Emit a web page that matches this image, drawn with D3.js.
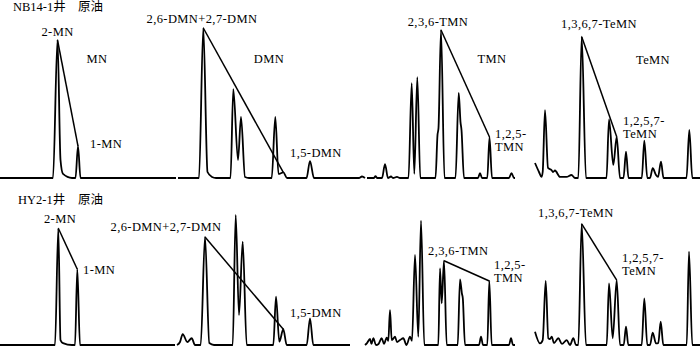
<!DOCTYPE html>
<html>
<head>
<meta charset="utf-8">
<script src="https://cdnjs.cloudflare.com/ajax/libs/d3/7.8.5/d3.min.js"></script>
<style>
  body { margin: 0; background: #fff; }
  svg { display: block; }
  .trace { fill: none; stroke: #000; stroke-width: 1.8; stroke-linejoin: round; }
  .link { stroke: #000; stroke-width: 1.5; }
  .lbl { font-family: "Liberation Serif", "Times New Roman", serif; font-size: 12.5px; fill: #000; letter-spacing: 0.4px; }
  .title { font-family: "Liberation Serif", "Noto Sans CJK SC", serif; font-size: 12.5px; fill: #000; }
</style>
</head>
<body>
<script>
// retention (arbitrary units) and relative signal (%)
// NB14-1 well, crude oil
var nb14MN_rt  = [0, 10.6, 11.5, 12.1, 12.6, 14.4, 15.1, 15.6, 16.1, 35.2];
var nb14MN_sig = [0, 0, 92, 12, 2.7, 0, 0, 21.3, 0, 0];

var nb14DMN_rt  = [0, 4.2, 5.06, 5.9, 6.8, 7.6, 10.5, 11.06, 12, 12.6, 13.4, 14.2, 18.74, 19.46, 20.1, 21.06, 21.8, 25.7, 26.4, 27.2, 36.2, 36.8, 37.4];
var nb14DMN_sig = [0, 0, 100, 4, 0.7, 0, 0, 59.3, 12, 40.7, 0.7, 0, 0, 40.7, 2.7, 3.7, 0, 0, 11.3, 0, 0, 1, 0];

var nb14TMN_rt  = [0, 1.4, 1.7, 2, 3, 3.6, 4.2, 4.8, 5.2, 6, 6.6, 8.3, 8.94, 9.46, 10.06, 10.66, 13.7, 14.1, 14.3, 14.8, 15.5, 17.7, 18.34, 18.7, 18.9, 19.4, 22.2, 22.6, 23, 24.06, 24.5, 25, 28.4, 28.9, 29.4, 29.6];
var nb14TMN_sig = [0, 0, 1.3, 0, 0, 9.3, 0, 1, 0, 0.7, 0, 0, 63.3, 2.7, 67.3, 0, 0, 28.7, 33.3, 98.7, 0, 0, 56.7, 37.3, 32, 0, 0, 3.3, 0, 0, 27.3, 0, 0, 3.3, 0, 0];

var nb14TeMN_rt  = [0, 0.8, 1.3, 1.54, 2, 2.6, 3.3, 3.6, 4, 5, 6.3, 7.3, 8, 8.66, 9.34, 10.2, 14.3, 14.8, 15.66, 16.34, 17, 17.7, 18.2, 18.7, 21.36, 21.86, 22.46, 23, 23.54, 24.2, 24.6, 25.2, 25.7, 30.3, 30.86, 31.46, 33];
var nb14TeMN_sig = [10, 4, 0.7, 4, 45.3, 6.7, 5.3, 4, 5, 0.7, 0.7, 2, 0, 0, 94.2, 0, 0, 39.1, 8.7, 27.5, 0, 0, 17.5, 0, 0, 24.9, 0, 0, 6.5, 2, 0.7, 10.9, 0, 0, 32, 0, 0];

// HY2-1 well, crude oil
var hy2MN_rt  = [0, 11, 11.66, 12.1, 12.6, 14.4, 15, 15.46, 16, 35];
var hy2MN_sig = [0, 0, 77.8, 3.3, 1.3, 0, 0, 50.5, 0, 0];

var hy2DMN_rt  = [0, 0.6, 1.14, 2.06, 2.94, 3.6, 4.74, 5.6, 6.46, 7.4, 11.14, 11.74, 12.4, 13.14, 13.94, 19.26, 19.8, 20.46, 21.26, 21.94, 25.94, 26.6, 27.26, 34.6];
var hy2DMN_sig = [0, 2, 7.3, 2, 4.5, 0, 0, 72, 1.3, 0, 0, 86.7, 20, 68.9, 0, 0, 32.2, 2.2, 10.5, 0, 0, 17.8, 0, 0];

var hy2TMN_rt  = [0, 0.4, 1, 1.3, 1.66, 2.2, 2.7, 3.34, 3.8, 4.34, 4.66, 5, 5.34, 5.6, 6, 6.4, 7, 7.66, 8.3, 9, 9.4, 10, 10.66, 11.2, 11.86, 14.66, 15, 15.34, 15.8, 16.34, 18.54, 19, 19.4, 19.56, 20, 22.8, 23.2, 23.6, 24.46, 24.86, 25.34, 28.8, 29.2, 29.6, 30];
var hy2TMN_sig = [0, 1.3, 4, 0.7, 4.5, 0, 0.7, 4.5, 0.7, 4.9, 2.7, 23.3, 3.3, 4, 5.5, 2, 3.3, 4.5, 0, 5.5, 2.7, 60, 5.5, 82.9, 0, 0, 51.1, 27.8, 56.2, 0, 0, 43.8, 34, 31.3, 0, 0, 5.5, 0, 0, 42.7, 0, 0, 4.5, 0, 0];

var hy2TeMN_rt  = [0, 1, 1.54, 2.14, 2.66, 3, 3.34, 3.8, 4.66, 5.4, 6.34, 7, 7.66, 8.2, 8.66, 9.34, 10.2, 14.34, 14.8, 15.54, 16.34, 17, 17.74, 18.2, 18.66, 21.34, 21.86, 22.46, 23, 23.54, 24.2, 24.66, 25.14, 25.66, 30.34, 30.8, 31.46, 33];
var hy2TeMN_sig = [8.9, 1.1, 3.3, 42.7, 4.5, 4, 5.5, 1.3, 4.5, 0.7, 3.3, 0, 4.5, 0, 0, 80.7, 0, 0, 41.1, 4.5, 43.3, 0, 0, 12.2, 0, 0, 31.1, 0, 0, 8.2, 1.1, 1.3, 15.5, 0, 0, 62.2, 0, 0];

// ratio lines: retention of the two peaks joined in each panel
var nb14_links = [[11.5, 15.6], [5.06, 21.06], [14.8, 24.5], [9.34, 16.34]];
var hy2_links  = [[11.66, 15.46], [5.6, 21.26], [15.8, 24.86], [9.34, 16.34]];

var wells = ["NB14-1井", "HY2-1井"];
var sampleType = "原油";

var svgWidth = 700;
var svgHeight = 347;
var pxPerUnit = 5;

var svg = d3.select("body")
  .append("svg")
  .attr("width", svgWidth)
  .attr("height", svgHeight);

// layout of the two rows
var rows = [
  { base: 178, x0: [0, 178, 367, 535],
    rt: [nb14MN_rt, nb14DMN_rt, nb14TMN_rt, nb14TeMN_rt],
    sig: [nb14MN_sig, nb14DMN_sig, nb14TMN_sig, nb14TeMN_sig],
    links: nb14_links },
  { base: 345, x0: [0, 177, 365, 535],
    rt: [hy2MN_rt, hy2DMN_rt, hy2TMN_rt, hy2TeMN_rt],
    sig: [hy2MN_sig, hy2DMN_sig, hy2TMN_sig, hy2TeMN_sig],
    links: hy2_links }
];

rows.forEach(function(row) {
  var y = d3.scaleLinear().domain([0, 100]).range([row.base, row.base - 150]);

  row.rt.forEach(function(rt, i) {
    var sig = row.sig[i];
    var xMax = d3.max(rt);
    var x = d3.scaleLinear().domain([0, xMax]).range([row.x0[i], row.x0[i] + xMax * pxPerUnit]);

    var pts = rt.map(function(t, k) { return [t, sig[k]]; });

    var line = d3.line()
      .x(function(d) { return x(d[0]); })
      .y(function(d) { return y(d[1]); })
      .curve(d3.curveMonotoneX);

    svg.append("path")
      .attr("class", "trace")
      .attr("d", line(pts));

    // line joining the two marker peaks
    var a = rt.indexOf(row.links[i][0]);
    var b = rt.indexOf(row.links[i][1]);
    svg.append("line")
      .attr("class", "link")
      .attr("x1", x(rt[a])).attr("y1", y(sig[a]))
      .attr("x2", x(rt[b])).attr("y2", y(sig[b]));
  });
});

// titles
var titles = [
  { t: wells[0], x: 13, y: 11 }, { t: sampleType, x: 78, y: 11 },
  { t: wells[1], x: 18, y: 204 }, { t: sampleType, x: 78, y: 204 }
];
svg.selectAll(".title")
  .data(titles)
  .enter()
  .append("text")
  .attr("class", "title")
  .attr("x", function(d) { return d.x; })
  .attr("y", function(d) { return d.y; })
  .text(function(d) { return d.t; });

// peak and group labels
var labels = [
  { t: ["2-MN"], x: 57.5, y: 36, a: "middle" },
  { t: ["MN"], x: 97, y: 63, a: "middle" },
  { t: ["1-MN"], x: 90, y: 148, a: "start" },
  { t: ["2,6-DMN+2,7-DMN"], x: 202, y: 23, a: "middle" },
  { t: ["DMN"], x: 269, y: 63, a: "middle" },
  { t: ["1,5-DMN"], x: 290, y: 157, a: "start" },
  { t: ["2,3,6-TMN"], x: 438, y: 26, a: "middle" },
  { t: ["TMN"], x: 492, y: 63, a: "middle" },
  { t: ["1,2,5-", "TMN"], x: 495, y: 138, a: "start" },
  { t: ["1,3,6,7-TeMN"], x: 599, y: 28, a: "middle" },
  { t: ["TeMN"], x: 653, y: 64, a: "middle" },
  { t: ["1,2,5,7-", "TeMN"], x: 623, y: 125, a: "start" },

  { t: ["2-MN"], x: 60, y: 223, a: "middle" },
  { t: ["1-MN"], x: 83, y: 274, a: "start" },
  { t: ["2,6-DMN+2,7-DMN"], x: 166, y: 231, a: "middle" },
  { t: ["1,5-DMN"], x: 290, y: 317, a: "start" },
  { t: ["2,3,6-TMN"], x: 428, y: 255, a: "start" },
  { t: ["1,2,5-", "TMN"], x: 494, y: 269, a: "start" },
  { t: ["1,3,6,7-TeMN"], x: 538, y: 217, a: "start" },
  { t: ["1,2,5,7-", "TeMN"], x: 622, y: 262, a: "start" }
];

var lbl = svg.selectAll(".lbl")
  .data(labels)
  .enter()
  .append("text")
  .attr("class", "lbl")
  .attr("text-anchor", function(d) { return d.a; })
  .attr("y", function(d) { return d.y; });

lbl.selectAll("tspan")
  .data(function(d) { return d.t.map(function(s) { return { s: s, x: d.x }; }); })
  .enter()
  .append("tspan")
  .attr("x", function(d) { return d.x; })
  .attr("dy", function(d, i) { return i ? 12.5 : 0; })
  .text(function(d) { return d.s; });
</script>
</body>
</html>
